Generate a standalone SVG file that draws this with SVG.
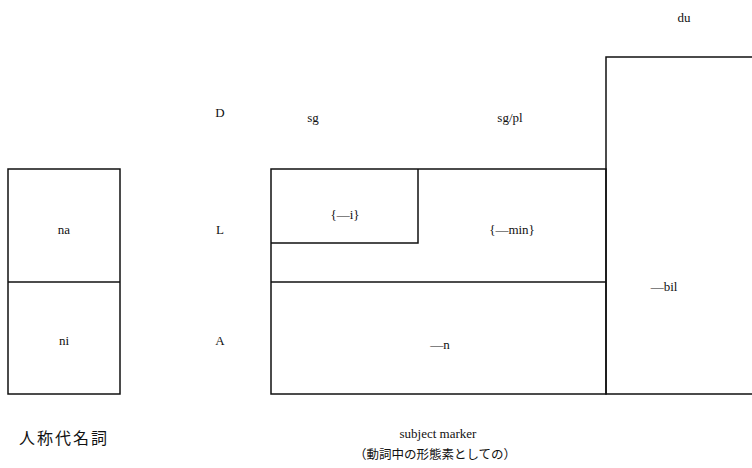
<svg xmlns="http://www.w3.org/2000/svg" width="752" height="468" viewBox="0 0 752 468">
<style>
.b{fill:none;stroke:#111;stroke-width:1.5}
.t{font-family:"Liberation Serif","DejaVu Serif",serif;font-size:13px;fill:#111;text-anchor:middle}
.j{font-family:"Noto Sans CJK JP",sans-serif;font-size:12.5px;fill:#111;text-anchor:middle}
</style>
<rect width="752" height="468" fill="#fff"/>
<g id="pronoun">
<rect class="b" x="8" y="169" width="112" height="225"/>
<line class="b" x1="8" y1="282" x2="120" y2="282"/>
<text class="t" x="64" y="234">na</text>
<text class="t" x="64" y="345">ni</text>
<text class="j" x="64" y="444" style="font-size:16px;letter-spacing:2px">人称代名詞</text>
</g>
<g id="labels">
<text class="t" x="220" y="117">D</text>
<text class="t" x="220" y="234">L</text>
<text class="t" x="220" y="345">A</text>
<text class="t" x="313" y="122">sg</text>
<text class="t" x="510" y="122">sg/pl</text>
<text class="t" x="684" y="22">du</text>
</g>
<g id="marker">
<rect class="b" x="271" y="169" width="335" height="225"/>
<line class="b" x1="271" y1="282" x2="606" y2="282"/>
<polyline class="b" points="271,243 418,243 418,169"/>
<text class="t" x="345" y="219">{—i}</text>
<text class="t" x="512" y="234">{—min}</text>
<text class="t" x="440" y="349">—n</text>
<text class="t" x="438" y="438">subject marker</text>
<text class="j" x="435" y="459">（動詞中の形態素としての）</text>
</g>
<g id="dual">
<polyline class="b" points="752,57 606,57 606,394 752,394"/>
<text class="t" x="664" y="291">—bil</text>
</g>
<g id="connectors"/>
</svg>
